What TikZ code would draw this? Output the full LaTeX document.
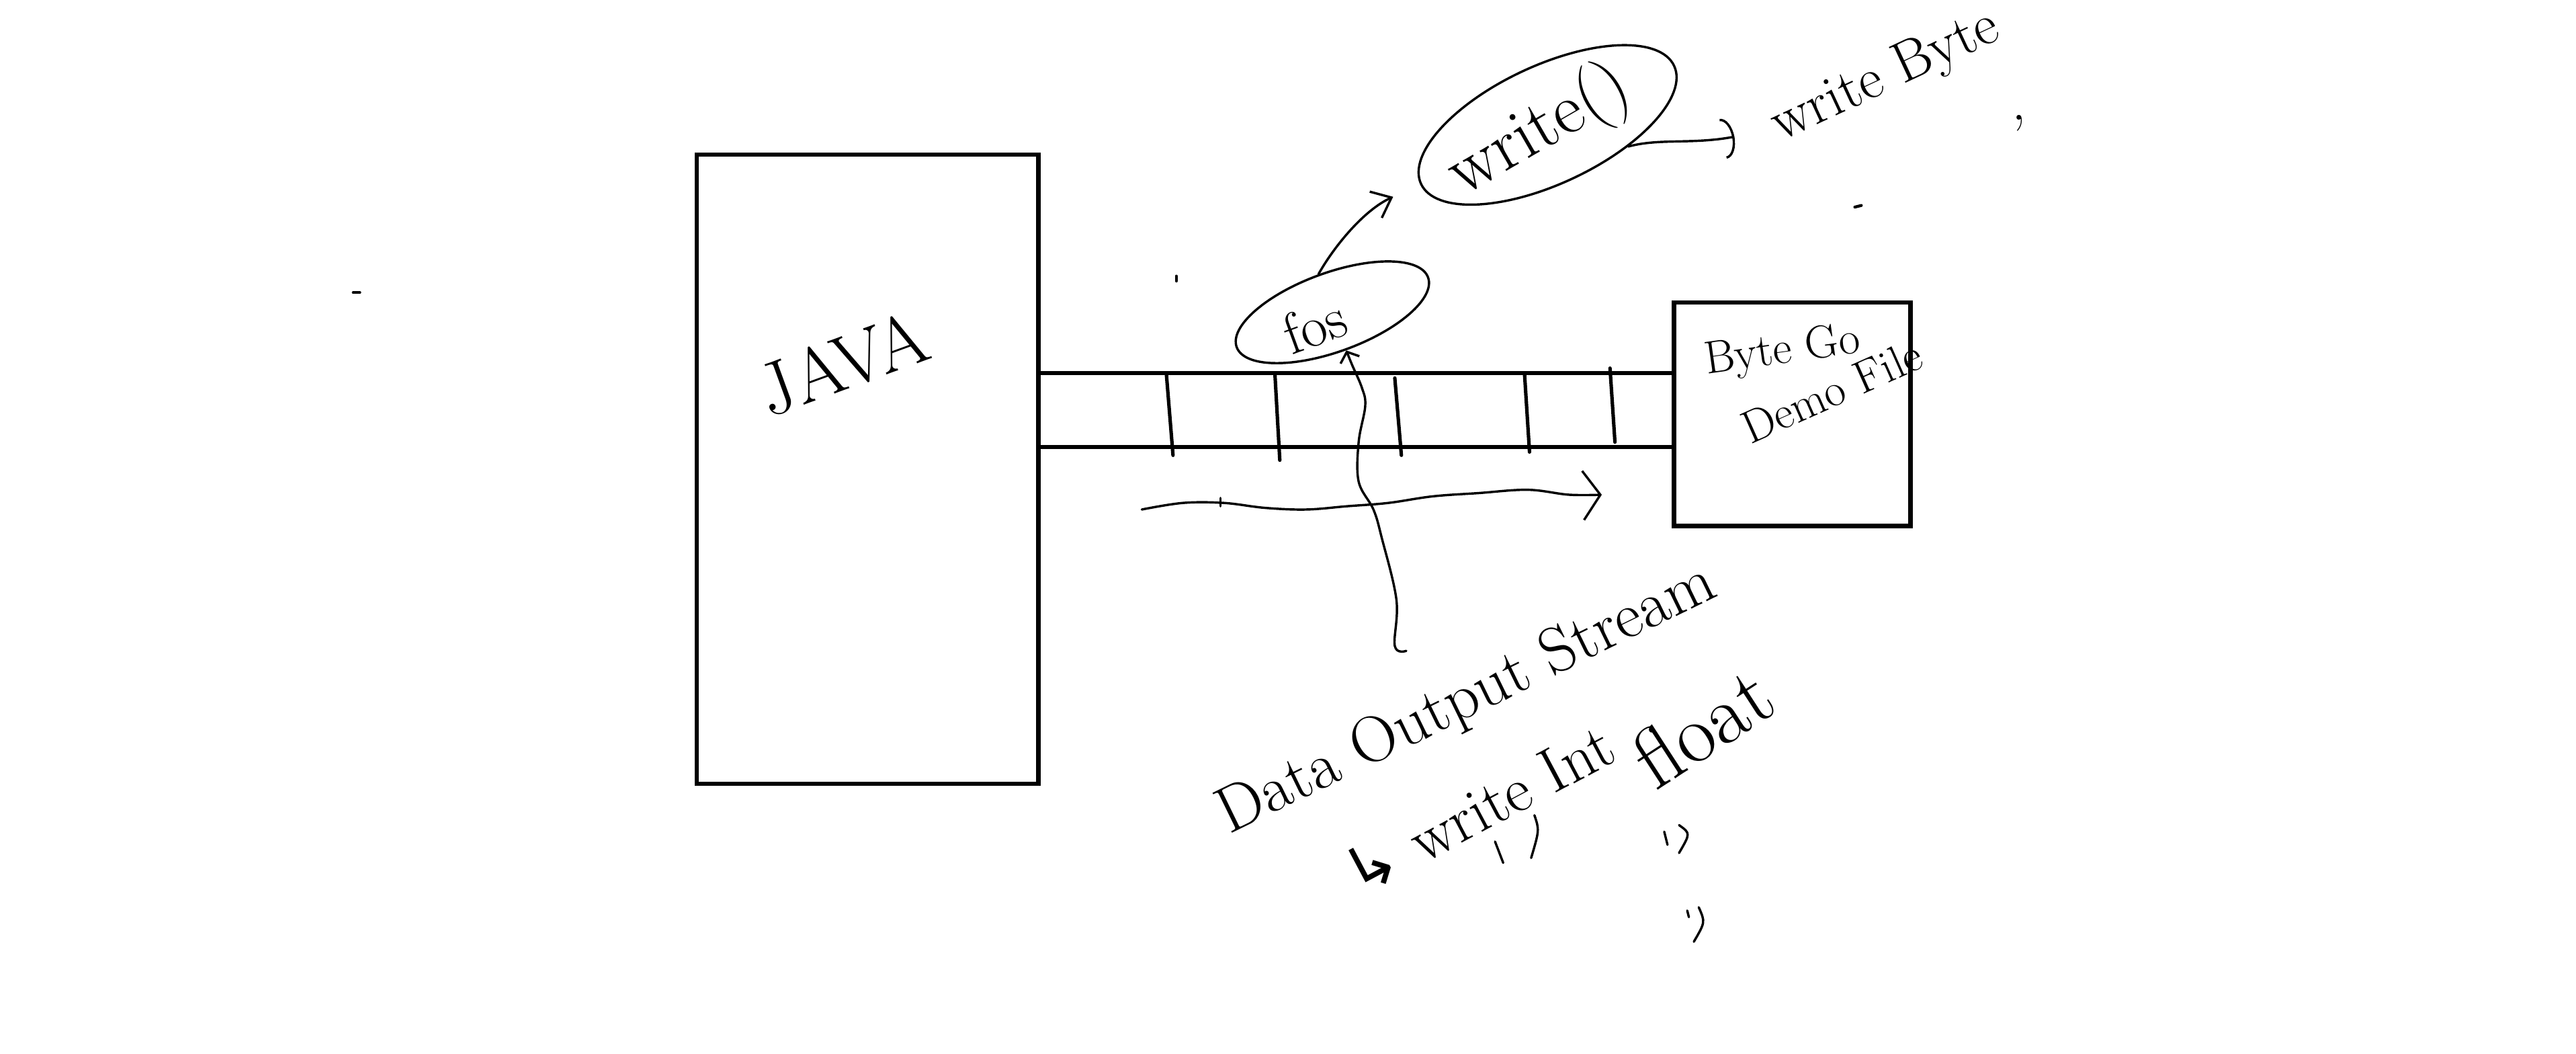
\documentclass[tikz,border=0pt]{standalone}
\usepackage{fontspec}
\newfontfamily\djv{DejaVu Sans}
\usetikzlibrary{arrows.meta,shapes.geometric}
\begin{document}
\begin{tikzpicture}[x=0.02cm,y=-0.02cm,
  box/.style={draw, line width=1.5pt, inner sep=0pt},
  pen/.style={line width=0.8pt, line cap=round, line join=round},
  ell/.style={draw, ellipse, pen, inner sep=0pt},
  hand/.style={inner sep=0pt, font=\fontsize{#1}{#1}\selectfont},
]
\useasboundingbox (0,0) rectangle (1568,641);
% boxes
\node[box, minimum width=4.16cm, minimum height=7.66cm] (java) at (528,285.5) {};
\node[box, minimum width=7.74cm, minimum height=0.9cm] (pipe) at (825.5,249.5) {};
\node[box, minimum width=2.88cm, minimum height=2.72cm] (file) at (1091,252) {};
% dividers in the pipe
\foreach \a/\b/\c/\d in {710/228/714/277, 776/227/779/280, 849/230/853/277, 928/228/931/275, 980/224/983/269}
  \draw[pen, line width=1.2pt] (\a,\b) -- (\c,\d);
% texts
\node[hand=26pt, rotate=20] (javaT) at (513,221) {JAVA};
\node[hand=20pt, rotate=20] (fosT) at (800,198) {fos};
\node[ell, minimum width=2.48cm, minimum height=0.96cm, rotate=20] (fosE) at (811,190) {};
\node[hand=25pt, rotate=30] (wrT) at (937,80) {write()};
\node[ell, minimum width=3.4cm, minimum height=1.44cm, rotate=25] (wrE) at (942,76) {};
\node[hand=20pt, rotate=25] (wb) at (1148,47) {write Byte};
\node[hand=20pt] (comma) at (1229,75) {,};
\node[hand=16pt, rotate=8] (bg) at (1085,214) {Byte Go};
\node[hand=16pt, rotate=24] (df) at (1115,238) {Demo File};
\node[hand=22.5pt, rotate=26] (dos) at (893,426) {Data Output Stream};
\node[hand=22pt, rotate=28] (wi) at (900,492) {{\djv ↳} write Int};
\node[hand=29pt, rotate=33] (fl) at (1036,442) {float};
% connectors
\draw[pen, shorten >=0.36cm, -{Straight Barb[length=6pt,width=10pt]}]
  (fosE.90) .. controls (812,150) and (830,128) .. (wrE.west);
\draw[pen, shorten >=0.5cm, -{Arc Barb[length=4pt,width=14pt]}]
  (wrE.-40) .. controls (1010,84) and (1030,88) .. (wb.west);
\coordinate (dosC) at (856,396);
\draw[pen, -{Straight Barb[length=3pt,width=7pt]}]
  plot[smooth, tension=0.6] coordinates {(dosC) (849,393) (850,365) (841,327) (836,310) (827,293) (827,269) (831,247) (829,236) (823,222) (fosE.south)};
% flow arrow under the pipe
\coordinate (flowS) at (695,310);
\coordinate (flowE) at (975,301);
\draw[pen, -{Straight Barb[length=6pt,width=17pt]}]
  plot[smooth, tension=0.6] coordinates {(flowS) (720,306) (745,306) (770,309) (795,310) (820,308) (845,306) (872,302) (900,300) (930,298) (955,301) (flowE)};
\draw[pen] (743,303) -- (743,308);
% ditto marks
\draw[pen] (910,512) -- (915,525);
\draw[pen] (934,496) .. controls (937,505) .. (932,522);
\draw[pen] (1013,506) -- (1015,514);
\draw[pen] (1022,502) .. controls (1029,507) .. (1022,519);
\draw[pen] (1027,554) -- (1028,558);
\draw[pen] (1034,552) .. controls (1038,561) .. (1031,573);
% stray marks
\draw[pen, line width=1pt] (215,178) -- (219,178);
\draw[pen, line width=1pt] (716,168) -- (716,171);
\draw[pen, line width=1pt] (1129,126) -- (1133,125);
\end{tikzpicture}
\end{document}
